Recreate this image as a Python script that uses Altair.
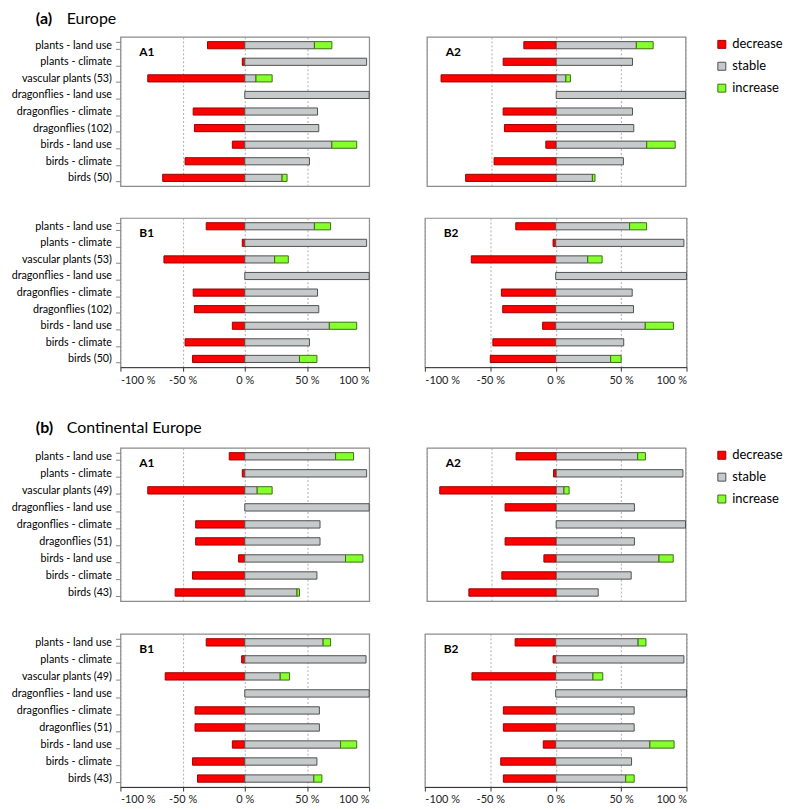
import altair as alt
import pandas as pd

FONT = "Lato"

cats_eu = ["plants - land use", "plants - climate", "vascular plants (53)",
           "dragonflies - land use", "dragonflies - climate", "dragonflies (102)",
           "birds - land use", "birds - climate", "birds (50)"]
cats_ce = ["plants - land use", "plants - climate", "vascular plants (49)",
           "dragonflies - land use", "dragonflies - climate", "dragonflies (51)",
           "birds - land use", "birds - climate", "birds (43)"]

SEGS = ["decrease", "stable", "increase"]
FILLS = ["#ff0000", "#c6caca", "#85ff2e"]
STROKES = ["#9a0000", "#505050", "#3a7010"]
TICKS = [-100, -50, 0, 50, 100]

# Europe
eu_a1_dec = [30, 2, 78, 0, 41.5, 40.5, 10, 48, 66]
eu_a1_stab = [56, 98, 9, 100, 58.5, 59.5, 70, 52, 30]
eu_a1_inc = [14, 0, 13, 0, 0, 0, 20, 0, 4]

eu_a2_dec = [25, 41, 89, 0, 41, 40, 8, 48, 70]
eu_a2_stab = [62, 59, 7.5, 100, 59, 60, 70, 52, 28]
eu_a2_inc = [13, 0, 3.5, 0, 0, 0, 22, 0, 2]

eu_b1_dec = [31, 2, 65, 0, 41.5, 40.5, 10, 48, 42]
eu_b1_stab = [56, 98, 24, 100, 58.5, 59.5, 68, 52, 44]
eu_b1_inc = [13, 0, 11, 0, 0, 0, 22, 0, 14]

eu_b2_dec = [30.5, 2, 64.5, 0, 41.5, 40.5, 10, 48, 50]
eu_b2_stab = [56.5, 98, 24.5, 100, 58.5, 59.5, 68.5, 52, 42]
eu_b2_inc = [13, 0, 11, 0, 0, 0, 21.5, 0, 8]

# Continental Europe
ce_a1_dec = [12.5, 2, 78, 0, 39.5, 39.5, 5, 42, 56]
ce_a1_stab = [73, 98, 10, 100, 60.5, 60.5, 81, 58, 42]
ce_a1_inc = [14.5, 0, 12, 0, 0, 0, 14, 0, 2]

ce_a2_dec = [31, 2, 90, 39.5, 0, 39.5, 9.5, 42, 67.5]
ce_a2_stab = [63, 98, 6, 60.5, 100, 60.5, 79.5, 58, 32.5]
ce_a2_inc = [6, 0, 4, 0, 0, 0, 11, 0, 0]

ce_b1_dec = [31, 2.5, 64, 0, 40, 40, 10, 42, 38]
ce_b1_stab = [63, 97.5, 28.5, 100, 60, 60, 77, 58, 55.5]
ce_b1_inc = [6, 0, 7.5, 0, 0, 0, 13, 0, 6.5]

ce_b2_dec = [31, 2, 64, 0, 40, 40, 9.5, 42, 40]
ce_b2_stab = [63, 98, 28.5, 100, 60, 60, 72, 58, 53.5]
ce_b2_inc = [6, 0, 7.5, 0, 0, 0, 18.5, 0, 6.5]


def frame(cats, dec, stab, inc):
    rows = []
    for c, d, s, i in zip(cats, dec, stab, inc):
        if d > 0:
            rows.append(dict(cat=c, seg="decrease", x0=-d, x1=0))
        if s > 0:
            rows.append(dict(cat=c, seg="stable", x0=0, x1=s))
        if i > 0:
            rows.append(dict(cat=c, seg="increase", x0=s, x1=s + i))
    return pd.DataFrame(rows)


def panel(cats, dec, stab, inc, label, width, height, left, bottom, legend,
          title=None, title_y=-13):
    df = frame(cats, dec, stab, inc)
    if left:
        yaxis = alt.Axis(title=None, labelFont=FONT, labelFontSize=10.8,
                         labelColor="#000", tickBand="extent", tickSize=5,
                         tickColor="#888", domain=False, labelPadding=4,
                         minExtent=112, maxExtent=112)
    else:
        yaxis = None
    xaxis = alt.Axis(title=None, values=TICKS, grid=True, gridDash=[2, 2],
                     gridColor="#999", gridWidth=0.8,
                     labels=bottom, ticks=bottom, domain=bottom,
                     domainColor="#333", tickColor="#333", tickSize=4,
                     labelFont=FONT, labelFontSize=11, labelColor="#222",
                     labelPadding=3, labelExpr="datum.value + ' %'")
    if legend:
        leg = alt.Legend(title=None, orient="right", offset=29,
                         symbolType="square", symbolSize=64,
                         labelFontSize=13, labelFont=FONT, labelColor="#000",
                         rowPadding=8, padding=1, symbolStrokeWidth=1,
                         labelOffset=4)
    else:
        leg = None
    fill = alt.Fill("seg:N", scale=alt.Scale(domain=SEGS, range=FILLS), legend=leg)
    stroke = alt.Stroke("seg:N", scale=alt.Scale(domain=SEGS, range=STROKES), legend=leg)
    bars = alt.Chart(df).mark_bar(strokeWidth=1).encode(
        x=alt.X("x0:Q", scale=alt.Scale(domain=[-100, 100], nice=False), axis=xaxis),
        x2="x1:Q",
        y=alt.Y("cat:N", sort=cats,
                scale=alt.Scale(domain=cats, paddingInner=0.57, paddingOuter=0.285),
                axis=yaxis),
        fill=fill,
        stroke=stroke,
    )
    lab = alt.Chart(pd.DataFrame({"t": [label]})).mark_text(
        align="left", baseline="middle", fontWeight="bold", fontSize=12,
        font=FONT, color="#000").encode(
        x=alt.value(19), y=alt.value(15.5), text="t:N")
    layers = [bars, lab]
    if title:
        t1 = alt.Chart(pd.DataFrame({"t": [title[0]]})).mark_text(
            align="left", baseline="alphabetic", fontWeight="bold", fontSize=16,
            font=FONT, color="#000").encode(
            x=alt.value(-85), y=alt.value(title_y), text="t:N")
        t2 = alt.Chart(pd.DataFrame({"t": [title[1]]})).mark_text(
            align="left", baseline="alphabetic", fontSize=16,
            font=FONT, color="#000").encode(
            x=alt.value(-54), y=alt.value(title_y), text="t:N")
        layers += [t1, t2]
    return alt.layer(*layers).properties(width=width, height=height)


def indep(c):
    return c.resolve_scale(fill="independent", stroke="independent").resolve_legend(
        fill="independent", stroke="independent")


LW, RW, EH, CH = 250, 260, 150, 154

eA1 = panel(cats_eu, eu_a1_dec, eu_a1_stab, eu_a1_inc, "A1", LW, EH, True, False, False,
            title=("(a)", "Europe"), title_y=-13)
eA2 = panel(cats_eu, eu_a2_dec, eu_a2_stab, eu_a2_inc, "A2", RW, EH, False, False, True)
eB1 = panel(cats_eu, eu_b1_dec, eu_b1_stab, eu_b1_inc, "B1", LW, EH, True, True, False)
eB2 = panel(cats_eu, eu_b2_dec, eu_b2_stab, eu_b2_inc, "B2", RW + 3, EH, False, True, False)

cA1 = panel(cats_ce, ce_a1_dec, ce_a1_stab, ce_a1_inc, "A1", LW, CH, True, False, False,
            title=("(b)", "Continental Europe"), title_y=-15)
cA2 = panel(cats_ce, ce_a2_dec, ce_a2_stab, ce_a2_inc, "A2", RW, CH, False, False, True)
cB1 = panel(cats_ce, ce_b1_dec, ce_b1_stab, ce_b1_inc, "B1", LW, CH, True, True, False)
cB2 = panel(cats_ce, ce_b2_dec, ce_b2_stab, ce_b2_inc, "B2", RW + 3, CH, False, True, False)

secE = indep(alt.vconcat(indep(alt.hconcat(eA1, eA2, spacing=55)),
                         indep(alt.hconcat(eB1, eB2, spacing=52)), spacing=24))
secC = indep(alt.vconcat(indep(alt.hconcat(cA1, cA2, spacing=55)),
                         indep(alt.hconcat(cB1, cB2, spacing=52)), spacing=25))

chart = indep(alt.vconcat(secE, secC, spacing=33)).properties(padding=0).configure_view(
    stroke="#8c8c8c", strokeWidth=1.2)

chart.save("out.html", embed_options={"renderer": "svg", "actions": False})
